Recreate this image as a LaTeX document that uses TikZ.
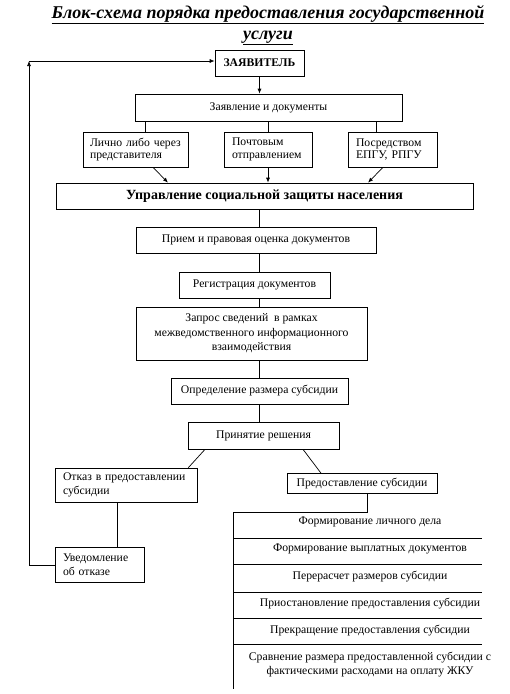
\documentclass[tikz,border=0pt]{standalone}
\usepackage{fontspec}
\setmainfont{Liberation Serif}
\usetikzlibrary{arrows.meta,calc}
\begin{document}
\begin{tikzpicture}[x=1pt,y=-1pt,
 box/.style={draw,line width=0.7pt,inner sep=0pt,align=center,font=\fontsize{11.7}{13.8}\selectfont},
 lbox/.style={box,align=left},
 lnk/.style={line width=0.7pt},
 arr/.style={lnk,-{Latex[length=5pt,width=4pt]}},
 item/.style={font=\fontsize{11.7}{14}\selectfont,align=center,inner sep=0pt}]
\useasboundingbox (0,0) rectangle (510,694);
% title
\node[align=center,font=\fontsize{18}{21}\selectfont\bfseries\itshape,inner sep=0pt] (title) at (268,25)
 {\underline{Блок-схема порядка предоставления государственной}\\\underline{услуги}};
% boxes
\node[box,minimum width=89pt,minimum height=26pt] (zv) at (259.5,63) {\textbf{ЗАЯВИТЕЛЬ}};
\node[box,minimum width=267pt,minimum height=27pt] (zd) at (268.5,107.5) {Заявление и документы};
\node[lbox,text width=91pt,inner xsep=7pt,minimum height=35pt,font=\fontsize{11.7}{12.5}\selectfont] (li) at (135.5,149.5) {Лично либо через\\представителя};
\node[lbox,text width=72pt,inner xsep=8pt,minimum height=35pt,font=\fontsize{11.7}{12.5}\selectfont] (po) at (268,149.5) {Почтовым\\отправлением};
\node[lbox,text width=73pt,inner xsep=8pt,minimum height=35pt,font=\fontsize{11.7}{12.5}\selectfont] (pg) at (392.5,149.5) {Посредством\\ЕПГУ, РПГУ};
\node[box,minimum width=417pt,minimum height=26pt,font=\fontsize{14}{16}\selectfont\bfseries] (up) at (264.5,196) {Управление социальной защиты населения};
\node[box,minimum width=240pt,minimum height=26pt] (pr) at (256,240) {Прием и правовая оценка документов};
\node[box,minimum width=151pt,minimum height=26pt] (re) at (254.5,285) {Регистрация документов};
\node[box,minimum width=231pt,minimum height=53pt,font=\fontsize{11.7}{14.5}\selectfont] (za) at (251.5,333.5) {Запрос сведений \ в рамках\\межведомственного информационного\\взаимодействия};
\node[box,minimum width=177pt,minimum height=26pt] (op) at (259.5,391) {Определение размера субсидии};
\node[box,minimum width=151pt,minimum height=27pt] (pn) at (263.5,435.5) {Принятие решения};
\node[lbox,text width=126pt,inner xsep=8pt,minimum height=34pt] (ot) at (126,485) {Отказ в предоставлении\\субсидии};
\node[box,minimum width=150pt,minimum height=20pt] (ps) at (362,483.5) {Предоставление субсидии};
\node[lbox,text width=73pt,inner xsep=8pt,minimum height=35pt] (uv) at (99.5,564.5) {Уведомление\\об отказе};
% right list
\node[item] (i1) at (370,522) {Формирование личного дела};
\node[item] (i2) at (370,549) {Формирование выплатных документов};
\node[item] (i3) at (370,577) {Перерасчет размеров субсидии};
\node[item] (i4) at (370,604) {Приостановление предоставления субсидии};
\node[item] (i5) at (370,631) {Прекращение предоставления субсидии};
\node[item] (i6) at (370,665) {Сравнение размера предоставленной субсидии с\\фактическими расходами на оплату ЖКУ};
% coordinates
\coordinate (vx) at (259,0);
\coordinate (x1) at (145,0);
\coordinate (x3) at (376,0);
\coordinate (a1) at (153,0);
\coordinate (b1) at (168,0);
\coordinate (a3) at (383,0);
\coordinate (b3) at (368,0);
\coordinate (d1) at (205,0);
\coordinate (d2) at (303,0);
\coordinate (ox) at (117,0);
\coordinate (ly) at (0,565);
\coordinate (corner) at (29,61);
\coordinate (bend) at (367,512);
\coordinate (rl) at (233,512);
\coordinate (rb) at (233,689);
\foreach \n/\y in {s1/538,s2/564,s3/592,s4/618,s5/644}{
  \coordinate (\n a) at (233,\y);
  \coordinate (\n b) at (482,\y);
}
% connectors
\draw[arr] (zv.south) -- (zd.north -| zv.south);
\draw[lnk] (zd.south -| x1) -- (li.north -| x1);
\draw[lnk] (zd.south -| po.north) -- (po.north);
\draw[lnk] (zd.south -| x3) -- (pg.north -| x3);
\draw[arr] (li.south -| a1) -- (up.north -| b1);
\draw[arr] (po.south) -- (up.north -| po.south);
\draw[arr] (pg.south -| a3) -- (up.north -| b3);
\draw[lnk] (up.south -| vx) -- (pr.north -| vx);
\draw[lnk] (pr.south -| vx) -- (re.north -| vx);
\draw[lnk] (re.south -| vx) -- (za.north -| vx);
\draw[lnk] (za.south -| vx) -- (op.north -| vx);
\draw[lnk] (op.south -| vx) -- (pn.north -| vx);
\draw[lnk] (pn.south -| d1) -- ([xshift=-9pt]ot.north east);
\draw[lnk] (pn.south -| d2) -- ([xshift=-41pt]ps.north);
\draw[lnk] (ot.south -| ox) -- (uv.north -| ox);
\draw[lnk] (ps.south -| bend) -- (bend) -- (rl) -- (rb);
\foreach \n in {s1,s2,s3,s4,s5}{\draw[lnk] (\n a) -- (\n b);}
\draw[arr] (uv.west |- ly) -| (corner);
\draw[arr] (corner) -- (zv.west |- corner);
\end{tikzpicture}
\end{document}
